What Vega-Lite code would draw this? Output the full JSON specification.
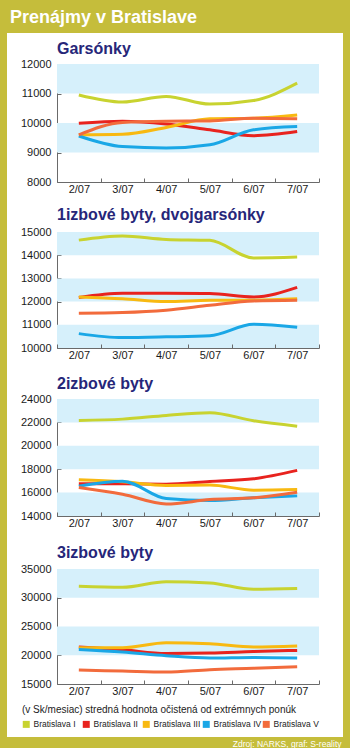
{
  "$schema": "https://vega.github.io/schema/vega-lite/v6.json",
  "background": "#c5bd3b",
  "padding": {"left": 7, "right": 7, "top": 9, "bottom": 0},
  "spacing": 0,
  "title": {"text": "Prenájmy v Bratislave", "color": "white", "fontSize": 18, "fontWeight": "bold", "font": "Liberation Sans", "anchor": "start", "dx": 3, "offset": 6},
  "resolve": {"legend": {"color": "independent"}},
  "config": {
    "view": {"fill": "white", "stroke": null},
    "font": "Liberation Sans",
    "range": {"category": ["#c8d330", "#e8231e", "#f8b911", "#1aa7e6", "#f26b3c"]},
    "axis": {"grid": false, "domainColor": "#6a6a6a", "tickColor": "#6a6a6a", "labelColor": "#1a1a1a", "labelFont": "Liberation Sans", "labelFontSize": 11, "tickSize": -4, "labelOverlap": false},
    "axisX": {"labelAngle": 0, "tickBand": "extent", "labelPadding": 5},
    "axisY": {"format": "d", "labelPadding": 10, "tickCount": 20},
    "title": {"anchor": "start", "dx": 50, "font": "Liberation Sans", "fontSize": 16, "fontWeight": "bold", "color": "#262679"}
  },
  "datasets": {
    "bands": [
      {"p": 1, "lo": 11000, "hi": 12000}, {"p": 1, "lo": 9000, "hi": 10000},
      {"p": 2, "lo": 14000, "hi": 15000}, {"p": 2, "lo": 12000, "hi": 13000}, {"p": 2, "lo": 10000, "hi": 11000},
      {"p": 3, "lo": 22000, "hi": 24000}, {"p": 3, "lo": 18000, "hi": 20000}, {"p": 3, "lo": 14000, "hi": 16000},
      {"p": 4, "lo": 30000, "hi": 35000}, {"p": 4, "lo": 20000, "hi": 25000}
    ],
    "lines": [
      {"p": 1, "d": "Bratislava I", "m": "2/07", "v": 10950}, {"p": 1, "d": "Bratislava I", "m": "3/07", "v": 10710}, {"p": 1, "d": "Bratislava I", "m": "4/07", "v": 10900}, {"p": 1, "d": "Bratislava I", "m": "5/07", "v": 10640}, {"p": 1, "d": "Bratislava I", "m": "6/07", "v": 10760}, {"p": 1, "d": "Bratislava I", "m": "7/07", "v": 11350},
      {"p": 1, "d": "Bratislava II", "m": "2/07", "v": 9990}, {"p": 1, "d": "Bratislava II", "m": "3/07", "v": 10060}, {"p": 1, "d": "Bratislava II", "m": "4/07", "v": 9970}, {"p": 1, "d": "Bratislava II", "m": "5/07", "v": 9770}, {"p": 1, "d": "Bratislava II", "m": "6/07", "v": 9570}, {"p": 1, "d": "Bratislava II", "m": "7/07", "v": 9710},
      {"p": 1, "d": "Bratislava III", "m": "2/07", "v": 9600}, {"p": 1, "d": "Bratislava III", "m": "3/07", "v": 9620}, {"p": 1, "d": "Bratislava III", "m": "4/07", "v": 9850}, {"p": 1, "d": "Bratislava III", "m": "5/07", "v": 10140}, {"p": 1, "d": "Bratislava III", "m": "6/07", "v": 10160}, {"p": 1, "d": "Bratislava III", "m": "7/07", "v": 10270},
      {"p": 1, "d": "Bratislava IV", "m": "2/07", "v": 9560}, {"p": 1, "d": "Bratislava IV", "m": "3/07", "v": 9200}, {"p": 1, "d": "Bratislava IV", "m": "4/07", "v": 9150}, {"p": 1, "d": "Bratislava IV", "m": "5/07", "v": 9260}, {"p": 1, "d": "Bratislava IV", "m": "6/07", "v": 9770}, {"p": 1, "d": "Bratislava IV", "m": "7/07", "v": 9880},
      {"p": 1, "d": "Bratislava V", "m": "2/07", "v": 9600}, {"p": 1, "d": "Bratislava V", "m": "3/07", "v": 10020}, {"p": 1, "d": "Bratislava V", "m": "4/07", "v": 10060}, {"p": 1, "d": "Bratislava V", "m": "5/07", "v": 10070}, {"p": 1, "d": "Bratislava V", "m": "6/07", "v": 10160}, {"p": 1, "d": "Bratislava V", "m": "7/07", "v": 10140},
      {"p": 2, "d": "Bratislava I", "m": "2/07", "v": 14650}, {"p": 2, "d": "Bratislava I", "m": "3/07", "v": 14830}, {"p": 2, "d": "Bratislava I", "m": "4/07", "v": 14680}, {"p": 2, "d": "Bratislava I", "m": "5/07", "v": 14640}, {"p": 2, "d": "Bratislava I", "m": "6/07", "v": 13880}, {"p": 2, "d": "Bratislava I", "m": "7/07", "v": 13920},
      {"p": 2, "d": "Bratislava II", "m": "2/07", "v": 12180}, {"p": 2, "d": "Bratislava II", "m": "3/07", "v": 12360}, {"p": 2, "d": "Bratislava II", "m": "4/07", "v": 12360}, {"p": 2, "d": "Bratislava II", "m": "5/07", "v": 12350}, {"p": 2, "d": "Bratislava II", "m": "6/07", "v": 12200}, {"p": 2, "d": "Bratislava II", "m": "7/07", "v": 12610},
      {"p": 2, "d": "Bratislava III", "m": "2/07", "v": 12200}, {"p": 2, "d": "Bratislava III", "m": "3/07", "v": 12120}, {"p": 2, "d": "Bratislava III", "m": "4/07", "v": 12000}, {"p": 2, "d": "Bratislava III", "m": "5/07", "v": 12060}, {"p": 2, "d": "Bratislava III", "m": "6/07", "v": 12060}, {"p": 2, "d": "Bratislava III", "m": "7/07", "v": 12120},
      {"p": 2, "d": "Bratislava IV", "m": "2/07", "v": 10620}, {"p": 2, "d": "Bratislava IV", "m": "3/07", "v": 10450}, {"p": 2, "d": "Bratislava IV", "m": "4/07", "v": 10480}, {"p": 2, "d": "Bratislava IV", "m": "5/07", "v": 10530}, {"p": 2, "d": "Bratislava IV", "m": "6/07", "v": 11020}, {"p": 2, "d": "Bratislava IV", "m": "7/07", "v": 10890},
      {"p": 2, "d": "Bratislava V", "m": "2/07", "v": 11500}, {"p": 2, "d": "Bratislava V", "m": "3/07", "v": 11530}, {"p": 2, "d": "Bratislava V", "m": "4/07", "v": 11630}, {"p": 2, "d": "Bratislava V", "m": "5/07", "v": 11840}, {"p": 2, "d": "Bratislava V", "m": "6/07", "v": 12030}, {"p": 2, "d": "Bratislava V", "m": "7/07", "v": 12060},
      {"p": 3, "d": "Bratislava I", "m": "2/07", "v": 22170}, {"p": 3, "d": "Bratislava I", "m": "3/07", "v": 22280}, {"p": 3, "d": "Bratislava I", "m": "4/07", "v": 22600}, {"p": 3, "d": "Bratislava I", "m": "5/07", "v": 22830}, {"p": 3, "d": "Bratislava I", "m": "6/07", "v": 22140}, {"p": 3, "d": "Bratislava I", "m": "7/07", "v": 21680},
      {"p": 3, "d": "Bratislava II", "m": "2/07", "v": 16750}, {"p": 3, "d": "Bratislava II", "m": "3/07", "v": 16750}, {"p": 3, "d": "Bratislava II", "m": "4/07", "v": 16720}, {"p": 3, "d": "Bratislava II", "m": "5/07", "v": 16950}, {"p": 3, "d": "Bratislava II", "m": "6/07", "v": 17180}, {"p": 3, "d": "Bratislava II", "m": "7/07", "v": 17900},
      {"p": 3, "d": "Bratislava III", "m": "2/07", "v": 17100}, {"p": 3, "d": "Bratislava III", "m": "3/07", "v": 16920}, {"p": 3, "d": "Bratislava III", "m": "4/07", "v": 16610}, {"p": 3, "d": "Bratislava III", "m": "5/07", "v": 16640}, {"p": 3, "d": "Bratislava III", "m": "6/07", "v": 16210}, {"p": 3, "d": "Bratislava III", "m": "7/07", "v": 16260},
      {"p": 3, "d": "Bratislava IV", "m": "2/07", "v": 16550}, {"p": 3, "d": "Bratislava IV", "m": "3/07", "v": 16980}, {"p": 3, "d": "Bratislava IV", "m": "4/07", "v": 15490}, {"p": 3, "d": "Bratislava IV", "m": "5/07", "v": 15320}, {"p": 3, "d": "Bratislava IV", "m": "6/07", "v": 15550}, {"p": 3, "d": "Bratislava IV", "m": "7/07", "v": 15720},
      {"p": 3, "d": "Bratislava V", "m": "2/07", "v": 16430}, {"p": 3, "d": "Bratislava V", "m": "3/07", "v": 15860}, {"p": 3, "d": "Bratislava V", "m": "4/07", "v": 15030}, {"p": 3, "d": "Bratislava V", "m": "5/07", "v": 15400}, {"p": 3, "d": "Bratislava V", "m": "6/07", "v": 15550}, {"p": 3, "d": "Bratislava V", "m": "7/07", "v": 16030},
      {"p": 4, "d": "Bratislava I", "m": "2/07", "v": 31990}, {"p": 4, "d": "Bratislava I", "m": "3/07", "v": 31820}, {"p": 4, "d": "Bratislava I", "m": "4/07", "v": 32800}, {"p": 4, "d": "Bratislava I", "m": "5/07", "v": 32570}, {"p": 4, "d": "Bratislava I", "m": "6/07", "v": 31470}, {"p": 4, "d": "Bratislava I", "m": "7/07", "v": 31590},
      {"p": 4, "d": "Bratislava II", "m": "2/07", "v": 21420}, {"p": 4, "d": "Bratislava II", "m": "3/07", "v": 20950}, {"p": 4, "d": "Bratislava II", "m": "4/07", "v": 20320}, {"p": 4, "d": "Bratislava II", "m": "5/07", "v": 20380}, {"p": 4, "d": "Bratislava II", "m": "6/07", "v": 20660}, {"p": 4, "d": "Bratislava II", "m": "7/07", "v": 20840},
      {"p": 4, "d": "Bratislava III", "m": "2/07", "v": 21300}, {"p": 4, "d": "Bratislava III", "m": "3/07", "v": 21300}, {"p": 4, "d": "Bratislava III", "m": "4/07", "v": 22170}, {"p": 4, "d": "Bratislava III", "m": "5/07", "v": 21990}, {"p": 4, "d": "Bratislava III", "m": "6/07", "v": 21420}, {"p": 4, "d": "Bratislava III", "m": "7/07", "v": 21590},
      {"p": 4, "d": "Bratislava IV", "m": "2/07", "v": 21010}, {"p": 4, "d": "Bratislava IV", "m": "3/07", "v": 20550}, {"p": 4, "d": "Bratislava IV", "m": "4/07", "v": 19910}, {"p": 4, "d": "Bratislava IV", "m": "5/07", "v": 19510}, {"p": 4, "d": "Bratislava IV", "m": "6/07", "v": 19620}, {"p": 4, "d": "Bratislava IV", "m": "7/07", "v": 19510},
      {"p": 4, "d": "Bratislava V", "m": "2/07", "v": 17430}, {"p": 4, "d": "Bratislava V", "m": "3/07", "v": 17250}, {"p": 4, "d": "Bratislava V", "m": "4/07", "v": 17080}, {"p": 4, "d": "Bratislava V", "m": "5/07", "v": 17490}, {"p": 4, "d": "Bratislava V", "m": "6/07", "v": 17720}, {"p": 4, "d": "Bratislava V", "m": "7/07", "v": 18000}
    ]
  },
  "vconcat": [
    {
      "width": 336, "height": 169,
      "title": {"text": "Garsónky", "offset": -24},
      "layer": [
        {"data": {"name": "bands"}, "transform": [{"filter": "datum.p === 1"}],
         "mark": {"type": "rect", "color": "#d6f0fb"},
         "encoding": {
           "x": {"datum": "2/07", "type": "ordinal", "bandPosition": 0},
           "x2": {"datum": "7/07", "bandPosition": 1},
           "y": {"field": "lo", "type": "quantitative"},
           "y2": {"field": "hi"}}},
        {"data": {"name": "lines"}, "transform": [{"filter": "datum.p === 1"}],
         "mark": {"type": "line", "interpolate": "monotone", "strokeWidth": 3},
         "encoding": {
           "x": {"field": "m", "type": "ordinal", "scale": {"type": "band", "domain": ["2/07", "3/07", "4/07", "5/07", "6/07", "7/07"], "range": [50, 312], "paddingInner": 0, "paddingOuter": 0}, "axis": {"title": null, "offset": -20, "tickBand": "extent"}},
           "y": {"field": "v", "type": "quantitative", "scale": {"domain": [8000, 12000], "range": [149, 31], "zero": false, "nice": false}, "axis": {"title": null, "offset": -50, "labelOverlap": false, "tickCount": 20, "values": [8000, 9000, 10000, 11000, 12000]}},
           "color": {"field": "d", "type": "nominal", "legend": null}}}
      ]
    },
    {
      "width": 336, "height": 168,
      "title": {"text": "1izbové byty, dvojgarsónky", "offset": -21},
      "layer": [
        {"data": {"name": "bands"}, "transform": [{"filter": "datum.p === 2"}],
         "mark": {"type": "rect", "color": "#d6f0fb"},
         "encoding": {
           "x": {"datum": "2/07", "type": "ordinal", "bandPosition": 0},
           "x2": {"datum": "7/07", "bandPosition": 1},
           "y": {"field": "lo", "type": "quantitative"},
           "y2": {"field": "hi"}}},
        {"data": {"name": "lines"}, "transform": [{"filter": "datum.p === 2"}],
         "mark": {"type": "line", "interpolate": "monotone", "strokeWidth": 3},
         "encoding": {
           "x": {"field": "m", "type": "ordinal", "scale": {"type": "band", "domain": ["2/07", "3/07", "4/07", "5/07", "6/07", "7/07"], "range": [50, 312], "paddingInner": 0, "paddingOuter": 0}, "axis": {"title": null, "offset": -22, "tickBand": "extent"}},
           "y": {"field": "v", "type": "quantitative", "scale": {"domain": [10000, 15000], "range": [146, 30], "zero": false, "nice": false}, "axis": {"title": null, "offset": -50, "labelOverlap": false, "tickCount": 20, "values": [10000, 11000, 12000, 13000, 14000, 15000]}},
           "color": {"field": "d", "type": "nominal", "legend": null}}}
      ]
    },
    {
      "width": 336, "height": 168,
      "title": {"text": "2izbové byty", "offset": -22},
      "layer": [
        {"data": {"name": "bands"}, "transform": [{"filter": "datum.p === 3"}],
         "mark": {"type": "rect", "color": "#d6f0fb"},
         "encoding": {
           "x": {"datum": "2/07", "type": "ordinal", "bandPosition": 0},
           "x2": {"datum": "7/07", "bandPosition": 1},
           "y": {"field": "lo", "type": "quantitative"},
           "y2": {"field": "hi"}}},
        {"data": {"name": "lines"}, "transform": [{"filter": "datum.p === 3"}],
         "mark": {"type": "line", "interpolate": "monotone", "strokeWidth": 3},
         "encoding": {
           "x": {"field": "m", "type": "ordinal", "scale": {"type": "band", "domain": ["2/07", "3/07", "4/07", "5/07", "6/07", "7/07"], "range": [50, 312], "paddingInner": 0, "paddingOuter": 0}, "axis": {"title": null, "offset": -22, "tickBand": "extent"}},
           "y": {"field": "v", "type": "quantitative", "scale": {"domain": [14000, 24000], "range": [146, 29], "zero": false, "nice": false}, "axis": {"title": null, "offset": -50, "labelOverlap": false, "tickCount": 20, "values": [14000, 16000, 18000, 20000, 22000, 24000]}},
           "color": {"field": "d", "type": "nominal", "legend": null}}}
      ]
    },
    {
      "width": 336, "height": 199,
      "title": {"text": "3izbové byty", "offset": -23},
      "layer": [
        {"data": {"name": "bands"}, "transform": [{"filter": "datum.p === 4"}],
         "mark": {"type": "rect", "color": "#d6f0fb"},
         "encoding": {
           "x": {"datum": "2/07", "type": "ordinal", "bandPosition": 0},
           "x2": {"datum": "7/07", "bandPosition": 1},
           "y": {"field": "lo", "type": "quantitative"},
           "y2": {"field": "hi"}}},
        {"data": {"name": "lines"}, "transform": [{"filter": "datum.p === 4"}],
         "mark": {"type": "line", "interpolate": "monotone", "strokeWidth": 3},
         "encoding": {
           "x": {"field": "m", "type": "ordinal", "scale": {"type": "band", "domain": ["2/07", "3/07", "4/07", "5/07", "6/07", "7/07"], "range": [50, 312], "paddingInner": 0, "paddingOuter": 0},
                 "axis": {"title": "Zdroj: NARKS, graf: S-reality", "offset": -53, "tickBand": "extent", "titleColor": "white", "titleFont": "Liberation Sans", "titleFontSize": 8.5, "titleFontWeight": "normal", "titleX": 334, "titleY": 62, "titleAlign": "right", "titleBaseline": "alphabetic", "titleAnchor": null}},
           "y": {"field": "v", "type": "quantitative", "scale": {"domain": [15000, 35000], "range": [146, 31], "zero": false, "nice": false}, "axis": {"title": null, "offset": -50, "labelOverlap": false, "tickCount": 20, "values": [15000, 20000, 25000, 30000, 35000]}},
           "color": {"field": "d", "type": "nominal",
                     "legend": {"orient": "none", "legendX": 15, "legendY": 167, "direction": "horizontal", "columns": 5, "padding": 0, "gridAlign": "all",
                                "title": "(v Sk/mesiac)   stredná hodnota očistená od extrémnych ponúk", "titleFontSize": 10, "titleFontWeight": "normal", "titleColor": "#222222", "titlePadding": 5, "titleLimit": 330, "titleFont": "Liberation Sans",
                                "symbolType": "square", "symbolSize": 9, "symbolStrokeWidth": 4, "labelFontSize": 8.5, "labelColor": "#222222", "labelFont": "Liberation Sans", "labelOffset": 3, "columnPadding": -24}}}}
      ]
    }
  ]
}
